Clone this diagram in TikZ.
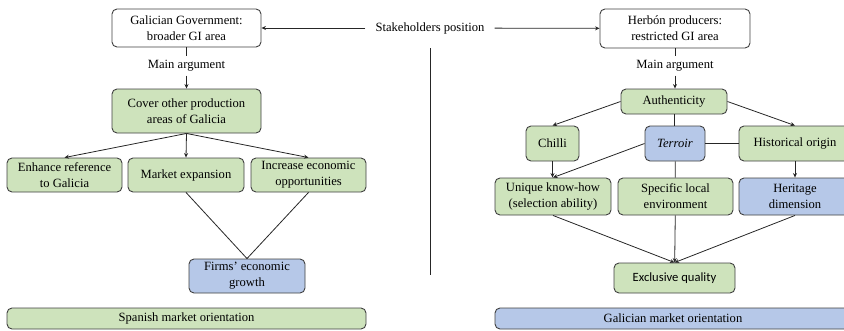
\documentclass[tikz,border=0pt]{standalone}
\usepackage{fontspec}
\setmainfont{Liberation Serif}
\newfontfamily\calfont{Carlito}
\usetikzlibrary{arrows.meta}
\definecolor{boxgreen}{RGB}{206,227,188}
\definecolor{boxblue}{RGB}{182,200,232}
\definecolor{boxline}{RGB}{64,64,64}

\begin{document}
\begin{tikzpicture}[x=1pt,y=-1pt,
  font=\fontsize{12.6}{16}\selectfont,
  box/.style={draw=boxline,line width=0.9pt,rounded corners=5pt,align=center,inner sep=0pt},
  greenbox/.style={box,fill=boxgreen},
  bluebox/.style={box,fill=boxblue},
  whitebox/.style={box,fill=white},
  conn/.style={line width=0.8pt,draw=black!85},
  arr/.style={conn,-{Stealth[length=4.5pt,width=4pt]}}]

\useasboundingbox (0,0) rectangle (844,330);
\clip (0,0) rectangle (844,330);

% top row
\node[whitebox,minimum width=149,minimum height=38] (gov) at (186.5,28) {Galician Government:\\broader GI area};
\node[inner xsep=10pt] (stake) at (430,28) {Stakeholders position};
\node[whitebox,minimum width=150,minimum height=39] (herb) at (675,28.5) {Herbón producers:\\restricted GI area};
\coordinate (divtop) at (430,48);
\coordinate (divbot) at (430,275);

\node[inner sep=4pt] (argL) at (186.5,66) {Main argument};
\node[inner sep=4pt] (argR) at (675,66) {Main argument};

% left side
\node[greenbox,minimum width=149,minimum height=44] (cover) at (186.5,111) {Cover other production\\areas of Galicia};
\node[greenbox,minimum width=115,minimum height=34] (enh) at (64.5,175) {Enhance reference\\to Galicia};
\node[greenbox,minimum width=116,minimum height=34] (mkt) at (186,175) {Market expansion};
\node[greenbox,minimum width=115,minimum height=34] (inc) at (308.5,175) {Increase economic\\opportunities};
\node[bluebox,minimum width=116,minimum height=34] (firms) at (247,276) {Firms' economic\\growth};
\node[greenbox,minimum width=359,minimum height=21] (spain) at (186.5,318.5) {Spanish market orientation};

% right side
\node[greenbox,minimum width=106,minimum height=25] (auth) at (674,101.5) {Authenticity};
\node[greenbox,minimum width=53,minimum height=35] (chilli) at (552.5,143.5) {Chilli};
\node[bluebox,minimum width=60,minimum height=35] (terr) at (675,143.5) {\textit{Terroir}};
\node[greenbox,minimum width=112,minimum height=35] (hist) at (795,143.5) {Historical origin};
\node[greenbox,minimum width=116,minimum height=37] (uniq) at (553,196.5) {Unique know-how\\(selection ability)};
\node[greenbox,minimum width=115,minimum height=37] (spec) at (675.5,196.5) {Specific local\\environment};
\node[bluebox,minimum width=112,minimum height=37] (herit) at (795,196.5) {Heritage\\dimension};
\node[greenbox,minimum width=121,minimum height=30,font=\calfont\fontsize{12.6}{15}\selectfont] (excl) at (674.5,278) {Exclusive quality};
\node[bluebox,minimum width=356,minimum height=21] (galic) at (673,318.5) {Galician market orientation};

\draw[arr] (stake) -- (gov);
\draw[arr] (stake) -- (herb);
\draw[conn] (divtop) -- (divbot);

\draw[conn] (gov) -- (argL);
\draw[arr] (argL) -- (cover);
\draw[arr] (cover.south) -- (enh.north);
\draw[arr] (cover.south) -- (mkt.north);
\draw[arr] (cover.south) -- (inc.north);
\draw[conn] (mkt.south) -- (firms.north);
\draw[conn] (inc.south) -- (firms.north);

\draw[conn] (herb) -- (argR);
\draw[arr] (argR) -- (argR |- auth.north);
\draw[arr] (auth.west) -- (chilli.north);
\draw[arr] (auth.east) -- (hist.north);
\draw[conn] (auth) -- (auth |- terr.north);
\draw[conn] (terr) -- (hist);
\draw[arr] (chilli) -- (chilli |- uniq.north);
\draw[arr] (terr.west) -- (uniq.north);
\draw[conn] (terr) -- (spec);
\draw[arr] (hist) -- (herit);
\draw[arr] (uniq.south) -- (excl.north);
\draw[arr] (spec) -- (excl);
\draw[arr] (herit.south) -- (excl.north);

\end{tikzpicture}
\end{document}
